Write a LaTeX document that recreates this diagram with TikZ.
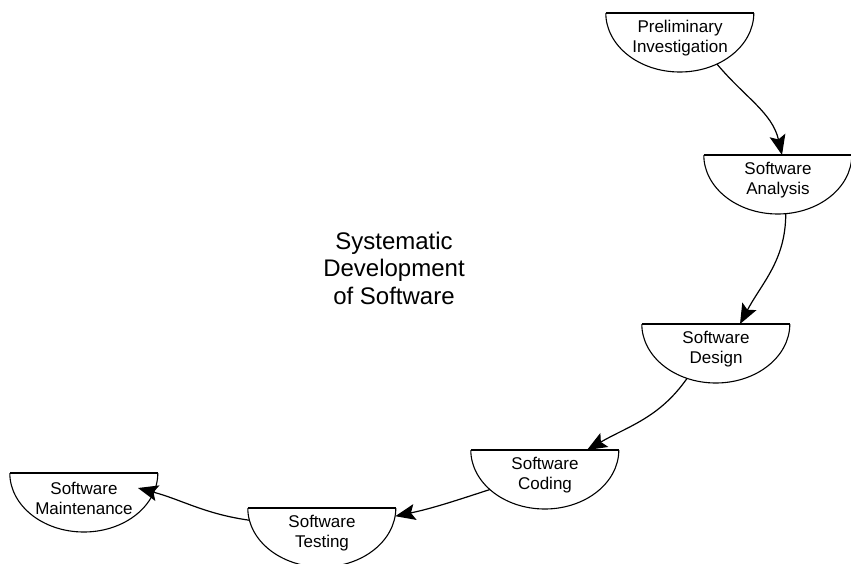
\documentclass[tikz,border=0pt]{standalone}
\usepackage{fontspec}
\setmainfont{Liberation Sans}
\usepackage{xcolor}
\usepackage{tikz}
\usetikzlibrary{calc,arrows.meta}
\definecolor{ink}{HTML}{000000}
\tikzset{
  stage/.style={anchor=north, align=center, inner sep=0pt, minimum width=148pt, minimum height=50pt, font=\fontsize{17}{20}\selectfont},
  lid/.style={draw=ink, line width=1.8pt},
  cup/.style={draw=ink, line width=1.1pt},
  flow/.style={draw=ink, line width=1.2pt},
  tip/.style={-{Stealth[length=20pt,width=16pt,inset=4pt]}},
  topic/.style={align=center, font=\fontsize{24}{27.5}\selectfont},
}

\begin{document}
\begin{tikzpicture}[x=1pt,y=1pt]
  \useasboundingbox (0,0) rectangle (851,-563);
  \node[stage] (prelim) at (680,-13) {Preliminary\\Investigation};
  \node[stage] (analysis) at (778,-155) {Software\\Analysis};
  \node[stage] (design) at (716,-324) {Software\\Design};
  \node[stage] (coding) at (545,-450) {Software\\Coding};
  \node[stage] (testing) at (322,-508) {Software\\Testing};
  \node[stage] (maint) at (84,-473) {Software\\Maintenance};
  \node[topic] (title) at (394,-268) {Systematic\\Development\\of Software};
  % half ellipse under each stage, thick lid on top
  \foreach \n in {prelim,analysis,design,coding,testing,maint}{
    \draw[cup] (\n.north west) arc[start angle=180,end angle=360,x radius=74pt,y radius=59pt];
    \draw[lid] (\n.north west) -- (\n.north east);
  }
  \draw[flow,tip] ($(prelim.north)+(300:74pt and 59pt)$) to[out=-50,in=103] ([xshift=4pt]analysis.north);
  \draw[flow,tip] ($(analysis.north)+(276:74pt and 59pt)$) to[out=-90,in=62] ([xshift=24pt]design.north);
  \draw[flow,tip] ($(design.north)+(247:74pt and 59pt)$) to[out=-125,in=30] ([xshift=42pt]coding.north);
  \draw[flow,tip] ($(coding.north)+(222:74pt and 59pt)$) to[out=198,in=12] ($(testing.north)+(352:74pt and 59pt)$);
  \draw[flow,tip] ($(testing.north)+(192:74pt and 59pt)$) to[out=172,in=-15] ([shift={(54pt,-15pt)}]maint.north);
\end{tikzpicture}
\end{document}
